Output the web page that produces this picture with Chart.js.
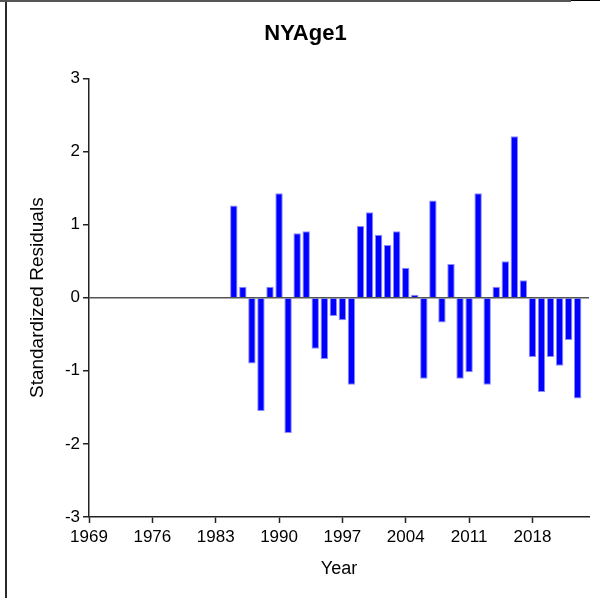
<!DOCTYPE html>
<html><head><meta charset="utf-8">
<script src="https://cdn.jsdelivr.net/npm/chart.js@4/dist/chart.umd.min.js"></script>
<style>
html,body{margin:0;padding:0;background:#fff;}
#wrap{position:relative;width:600px;height:598px;overflow:hidden;}
.f{position:absolute;}
</style></head><body>
<div id="wrap"><canvas id="c" width="600" height="598"></canvas>
<div class="f" style="left:5px;top:0;width:2px;height:598px;background:#2a2a2a"></div>
<div class="f" style="left:0;top:0;width:571px;height:2px;background:#555"></div>
<div class="f" style="left:571px;top:0;width:29px;height:1px;background:#000"></div>
</div>
<script>
const titleText = 'NYAge1';
const xTitle = 'Year';
const yTitle = 'Standardized Residuals';
const years = [1985,1986,1987,1988,1989,1990,1991,1992,1993,1994,1995,1996,1997,1998,1999,2000,2001,2002,2003,2004,2005,2006,2007,2008,2009,2010,2011,2012,2013,2014,2015,2016,2017,2018,2019,2020,2021,2022,2023];
const residuals = [1.26,0.15,-0.90,-1.55,0.15,1.43,-1.85,0.88,0.91,-0.70,-0.84,-0.25,-0.31,-1.19,0.98,1.17,0.86,0.72,0.91,0.41,0.04,-1.11,1.33,-0.34,0.46,-1.11,-1.02,1.43,-1.19,0.15,0.50,2.21,0.24,-0.81,-1.29,-0.81,-0.93,-0.58,-1.38];
const xTicks = [1969,1976,1983,1990,1997,2004,2011,2018];
const yTicks = [-3,-2,-1,0,1,2,3];
const xRange = [1969, 2024.25];

const points = years.map((yr, i) => ({x: yr, y: residuals[i]}));
const FONT = "'Liberation Sans', Arial, sans-serif";

new Chart(document.getElementById('c'), {
  type: 'bar',
  data: { datasets: [{
    data: points,
    backgroundColor: '#0000FF',
    borderColor: 'rgba(110,110,255,0.8)',
    borderWidth: 1,
    categoryPercentage: 1.0,
    barPercentage: 0.82
  }]},
  options: {
    responsive: false,
    animation: false,
    devicePixelRatio: 1,
    layout: { padding: { left: 22, right: 11, top: 0, bottom: 0 } },
    plugins: {
      legend: { display: false },
      tooltip: { enabled: false },
      title: {
        display: true, text: titleText, color: '#000',
        font: { family: FONT, size: 22, weight: 'bold' },
        padding: { top: 21, bottom: 31 }
      }
    },
    scales: {
      x: {
        type: 'linear',
        offset: false,
        min: xRange[0], max: xRange[1],
        afterBuildTicks: s => { s.ticks = xTicks.map(v => ({ value: v })); },
        afterFit: s => { s.height = 81; },
        grid: { offset: false, drawOnChartArea: false, drawTicks: true, tickLength: 6, tickColor: '#222', tickWidth: 1.5 },
        border: { display: true, color: '#222', width: 1.5 },
        ticks: { autoSkip: false, maxRotation: 0, color: '#000', padding: 4,
          font: { family: FONT, size: 17 }, callback: v => String(v) },
        title: { display: true, text: xTitle, color: '#000',
          font: { family: FONT, size: 18 }, padding: { top: 4, bottom: 18 } }
      },
      y: {
        min: -3, max: 3, z: 1,
        afterBuildTicks: s => { s.ticks = yTicks.map(v => ({ value: v })); },
        afterFit: s => { s.width = 67; },
        grid: {
          drawOnChartArea: true, drawTicks: true, tickLength: 6,
          color: c => (c.tick && c.tick.value === 0) ? '#555' : 'rgba(0,0,0,0)',
          lineWidth: 1.5, tickColor: '#222', tickWidth: 1.5
        },
        border: { display: true, color: '#222', width: 1.5 },
        ticks: { color: '#000', padding: 3, font: { family: FONT, size: 17 }, callback: v => String(v) },
        title: { display: true, text: yTitle, color: '#000',
          font: { family: FONT, size: 19 }, padding: { top: 4, bottom: 0 } }
      }
    }
  }
});
</script>
</body></html>
